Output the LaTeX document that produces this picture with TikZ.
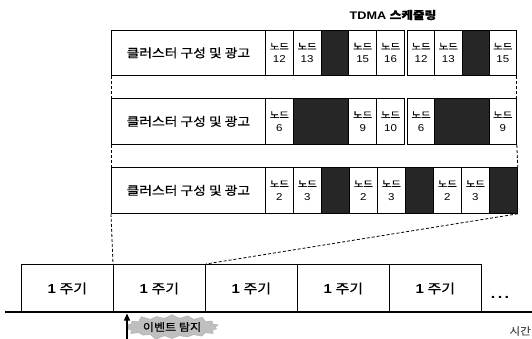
\documentclass[tikz,border=0pt]{standalone}
\usepackage{fontspec}
\setmainfont[FakeStretch=1.15]{Liberation Sans}
\newfontfamily\kr[FakeStretch=1.15,FakeBold=0.8]{Noto Sans CJK KR}
\usetikzlibrary{shapes.symbols,arrows.meta}
\begin{document}
\begin{tikzpicture}[x=1pt,y=-1pt,
  box/.style={draw, line width=0.8pt, inner sep=0pt, anchor=north west, align=center},
  lbl/.style={box, minimum width=154pt, font=\kr\fontsize{12}{14}\selectfont},
  cell/.style={box, font=\fontsize{10}{13}\selectfont},
  blk/.style={box, fill=black!85},
  per/.style={box, minimum width=92pt, minimum height=48pt, font=\fontsize{13}{15}\selectfont},
  conn/.style={dash pattern=on 3pt off 2pt, line width=0.8pt}
]
\useasboundingbox (0,0) rectangle (532,339);
\newcommand{\nd}[1]{{\kr\fontsize{9}{10}\selectfont 노드}\\#1}
\newcommand{\per}{{\bfseries 1}\hspace{3.5pt}{\kr 주기}}

% title
\node[font=\bfseries\fontsize{11}{13}\selectfont] (title) at (393,15) {TDMA {\kr 스케줄링}};

% row 1
\begin{scope}[every node/.append style={minimum height=45pt}]
\node[lbl] (r1l) at (111,30) {클러스터 구성 및 광고};
\node[cell, minimum width=27.8pt] (r1a) at (265,30) {\nd{12}};
\node[cell, minimum width=27.8pt] (r1b) at (292.8,30) {\nd{13}};
\node[blk, minimum width=27.8pt] (r1c) at (320.6,30) {};
\node[cell, minimum width=27.8pt] (r1d) at (348.4,30) {\nd{15}};
\node[cell, minimum width=27.8pt] (r1e) at (376.2,30) {\nd{16}};
\node[cell, minimum width=27.25pt] (r1f) at (407,30) {\nd{12}};
\node[cell, minimum width=27.25pt] (r1g) at (434.25,30) {\nd{13}};
\node[blk, minimum width=27.25pt] (r1h) at (461.5,30) {};
\node[cell, minimum width=27.25pt] (r1i) at (488.75,30) {\nd{15}};
\end{scope}

% row 2
\begin{scope}[every node/.append style={minimum height=46pt}]
\node[lbl] (r2l) at (111,98) {클러스터 구성 및 광고};
\node[cell, minimum width=27.8pt] (r2a) at (265,98) {\nd{6}};
\node[blk, minimum width=55.6pt] (r2b) at (292.8,98) {};
\node[cell, minimum width=27.8pt] (r2c) at (348.4,98) {\nd{9}};
\node[cell, minimum width=27.8pt] (r2d) at (376.2,98) {\nd{10}};
\node[cell, minimum width=27.25pt] (r2e) at (407,98) {\nd{6}};
\node[blk, minimum width=54.5pt] (r2f) at (434.25,98) {};
\node[cell, minimum width=27.25pt] (r2g) at (488.75,98) {\nd{9}};
\end{scope}

% row 3
\begin{scope}[every node/.append style={minimum height=46pt, minimum width=28pt}]
\node[lbl, minimum width=154pt] (r3l) at (111,167) {클러스터 구성 및 광고};
\node[cell] (r3a) at (265,167) {\nd{2}};
\node[cell] (r3b) at (293,167) {\nd{3}};
\node[blk] (r3c) at (321,167) {};
\node[cell] (r3d) at (349,167) {\nd{2}};
\node[cell] (r3e) at (377,167) {\nd{3}};
\node[blk] (r3f) at (405,167) {};
\node[cell] (r3g) at (433,167) {\nd{2}};
\node[cell] (r3h) at (461,167) {\nd{3}};
\node[blk] (r3i) at (489,167) {};
\end{scope}

% periods
\node[per] (p1) at (21,264) {\per};
\node[per] (p2) at (113,264) {\per};
\node[per] (p3) at (205,264) {\per};
\node[per] (p4) at (297,264) {\per};
\node[per] (p5) at (389,264) {\per};
\node[font=\bfseries\fontsize{14}{15}\selectfont, anchor=base] (dots) at (500,298) {.\,.\,.};

% connectors
\draw[conn] (r1l.south west) -- (r2l.north west);
\draw[conn] (r1i.south east) -- (r2g.north east);
\draw[conn] (r2l.south west) -- (r3l.north west);
\draw[conn] (r2g.south east) -- (r3i.north east);
\draw[conn] (r3l.south west) -- (p2.north west);
\draw[conn] (r3i.south east) -- (p2.north east);

% time axis
\coordinate (t0) at (5,312);
\coordinate (t1) at (532,312);
\draw[line width=1.8pt] (t0) -- (t1);
\node[anchor=east, inner sep=0pt, text=gray!60!black, font=\kr\fontsize{10}{12}\selectfont] (time) at (531,331) {시간};

% event
\node[starburst, starburst points=18, starburst point height=5pt, fill=gray!50, draw=gray!70,
  line width=0.3pt, inner sep=1.5pt, font=\kr\fontsize{10.5}{12}\selectfont] (ev) at (172,327) {이벤트 탐지};
\coordinate (ev0) at (127,339);
\coordinate (ev1) at (127,313.5);
\draw[line width=1.2pt, -{Triangle[width=6pt,length=7pt]}] (ev0) -- (ev1);
\end{tikzpicture}
\end{document}
